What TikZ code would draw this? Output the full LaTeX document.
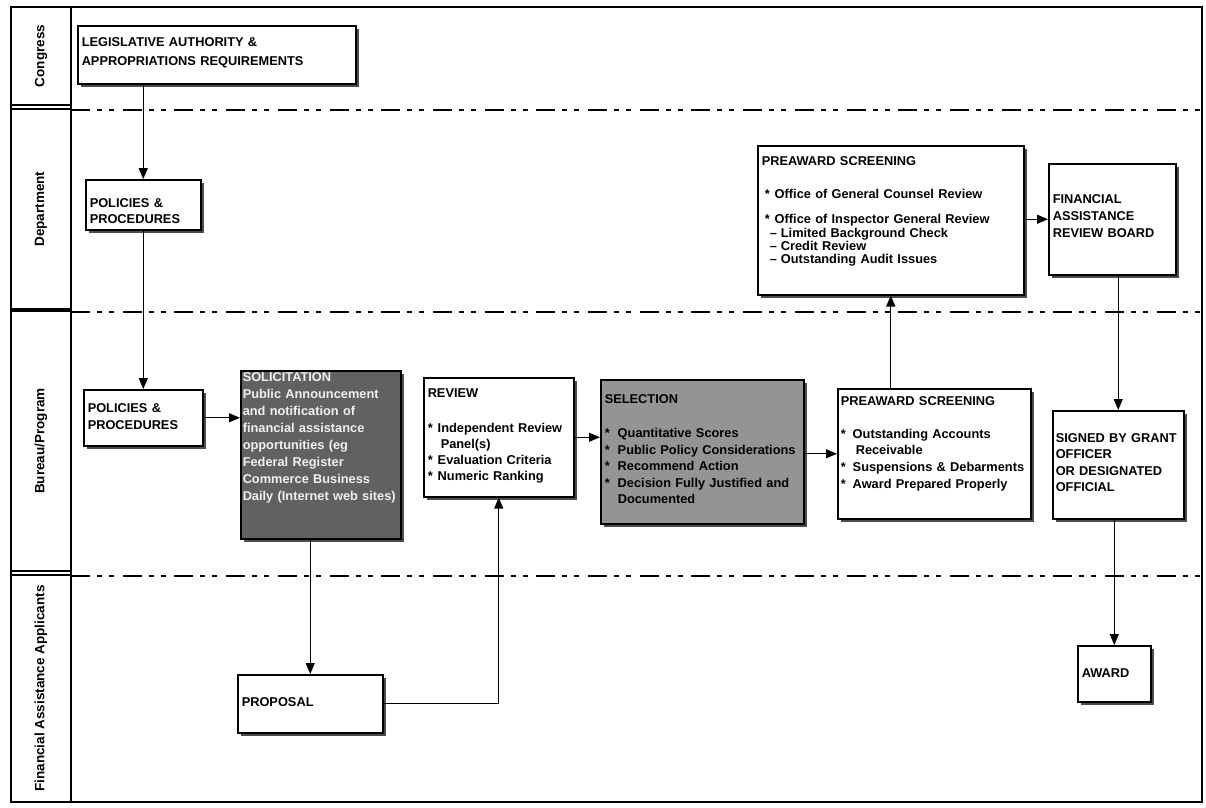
\documentclass[tikz,border=0pt]{standalone}
\usepackage{fontspec}
\setmainfont{Liberation Sans}
\usetikzlibrary{arrows.meta,shadows}

\tikzset{
  stage/.style={draw,line width=1.5pt,fill=white,anchor=north west,align=left,
    inner xsep=4pt,inner ysep=0pt,
    font=\fontsize{12.8}{16.5}\selectfont\bfseries,
    drop shadow={shadow xshift=3pt,shadow yshift=-3pt,fill=black!70,opacity=1}},
  lightgrain/.style={fill=black!42},
  darkgrain/.style={fill=black!62,text=black!6},
  lane/.style={draw,line width=1.3pt,minimum width=60pt,inner sep=0pt,
    font=\fontsize{13.5}{15}\selectfont\bfseries},
  arr/.style={line width=1.3pt,-{Triangle[length=11pt,width=9pt]}},
  lanesep/.style={line width=1.8pt,dash pattern=on 19pt off 7pt on 5pt off 7pt on 5pt off 8.7pt}
}

\begin{document}
\begin{tikzpicture}[x=1pt,y=-1pt]
\fill[white] (0,0) rectangle (1206,807);
\useasboundingbox (0,0) rectangle (1206,807);

\draw[line width=1.5pt] (11,7) rectangle (1202,802);
\draw[line width=1.3pt] (71,7) -- (71,802);
\node[lane,minimum height=98pt] (congress) at (41,56) {\rotatebox{90}{Congress}};
\node[lane,minimum height=200pt] (department) at (41,209) {\rotatebox{90}{Department}};
\node[lane,minimum height=260pt] (bureau) at (41,441) {\rotatebox{90}{Bureau/Program}};
\node[lane,minimum height=227pt] (applicants) at (41,688.5) {\rotatebox{90}{Financial Assistance Applicants}};

\draw[lanesep] (71,110) -- (1202,110);
\draw[lanesep] (71,312) -- (1202,312);
\draw[lanesep] (71,576) -- (1202,576);

\node[stage,text width=270pt,text height=21pt,text depth=37pt] (leg) at (77,25)
  {LEGISLATIVE AUTHORITY \&\\[2.5pt]APPROPRIATIONS REQUIREMENTS};
\node[stage,text width=107pt,text height=27.5pt,text depth=22.5pt] (deppol) at (85,179)
  {POLICIES \&\\[-0.5pt]PROCEDURES};
\node[stage,text width=111pt,text height=22.5pt,text depth=33.5pt] (bpol) at (83,389)
  {POLICIES \&\\[0.5pt]PROCEDURES};
\node[stage,darkgrain,inner xsep=2pt,text width=156pt,text height=11pt,text depth=157pt,
  font=\fontsize{12.8}{17}\selectfont\bfseries] (sol) at (240,370)
  {SOLICITATION\\
   Public Announcement\\
   and notification of\\
   financial assistance\\
   opportunities (eg\\
   Federal Register\\
   Commerce Business\\
   \mbox{Daily (Internet web sites)}};
\node[stage,text width=142pt,text height=19.5pt,text depth=99.5pt] (rev) at (423,377)
  {REVIEW\\[18.5pt]
   {*}\hspace{5pt}Independent Review\\
   \hspace*{13pt}Panel(s)\\[-0.5pt]
   {*}\hspace{5pt}Evaluation Criteria\\[-0.5pt]
   {*}\hspace{5pt}Numeric Ranking};
\node[stage,lightgrain,text width=195pt,text height=23.5pt,text depth=120.5pt] (sel) at (600,379)
  {SELECTION\\[18pt]
   {*}\hspace{8pt}Quantitative Scores\\
   {*}\hspace{8pt}\mbox{Public Policy Considerations}\\
   {*}\hspace{8pt}Recommend Action\\
   {*}\hspace{8pt}\mbox{Decision Fully Justified and}\\
   \hspace*{13pt}Documented};
\node[stage,inner xsep=3pt,text width=187pt,text height=16.5pt,text depth=113.5pt] (pab) at (837,388)
  {PREAWARD SCREENING\\[16.5pt]
   {*}\hspace{7pt}Outstanding Accounts\\
   \hspace*{15pt}Receivable\\[0.5pt]
   {*}\hspace{7pt}\mbox{Suspensions \& Debarments}\\[0.5pt]
   {*}\hspace{7pt}Award Prepared Properly};
\node[stage,text width=258pt,text height=19.5pt,text depth=129.5pt,
  font=\fontsize{12.8}{14}\selectfont\bfseries] (pad) at (757,145)
  {PREAWARD SCREENING\\[19pt]
   \hspace*{3pt}{*}\hspace{5pt}Office of General Counsel Review\\[11pt]
   \hspace*{3pt}{*}\hspace{5pt}Office of Inspector General Review\\
   \hspace*{8pt}--\hspace{4pt}Limited Background Check\\[-0.5pt]
   \hspace*{8pt}--\hspace{4pt}Credit Review\\[-1pt]
   \hspace*{8pt}--\hspace{4pt}Outstanding Audit Issues};
\node[stage,text width=119pt,text height=39.5pt,text depth=71.5pt] (farb) at (1048,163)
  {FINANCIAL\\[0.5pt]ASSISTANCE\\[0.5pt]REVIEW BOARD};
\node[stage,inner xsep=3pt,text width=125pt,text height=31.5pt,text depth=76.5pt] (sgn) at (1052,410)
  {\mbox{SIGNED BY GRANT}\\OFFICER\\OR DESIGNATED\\OFFICIAL};
\node[stage,text width=65pt,text height=31.5pt,text depth=24.5pt] (awd) at (1077,645)
  {AWARD};
\node[stage,text width=137pt,text height=31.5pt,text depth=26.5pt] (prop) at (237,674)
  {PROPOSAL};

\draw[arr] (leg.south -| deppol.north) -- (deppol.north);
\draw[arr] (deppol.south) -- (bpol.north);
\draw[arr] (bpol.east) -- (bpol.east -| sol.west);
\draw[arr] (sol.south -| prop.north) -- (prop.north);
\draw[arr] (prop.east) -| (rev.south);
\draw[arr] (rev.east) -- (rev.east -| sel.west);
\draw[arr] (sel.east |- pab.west) -- (pab.west);
\draw[arr] (pab.north -| pad.south) -- (pad.south);
\draw[arr] (pad.east |- farb.west) -- (farb.west);
\draw[arr] (farb.south -| sgn.north) -- (sgn.north);
\draw[arr] (sgn.south -| awd.north) -- (awd.north);
\end{tikzpicture}
\end{document}
